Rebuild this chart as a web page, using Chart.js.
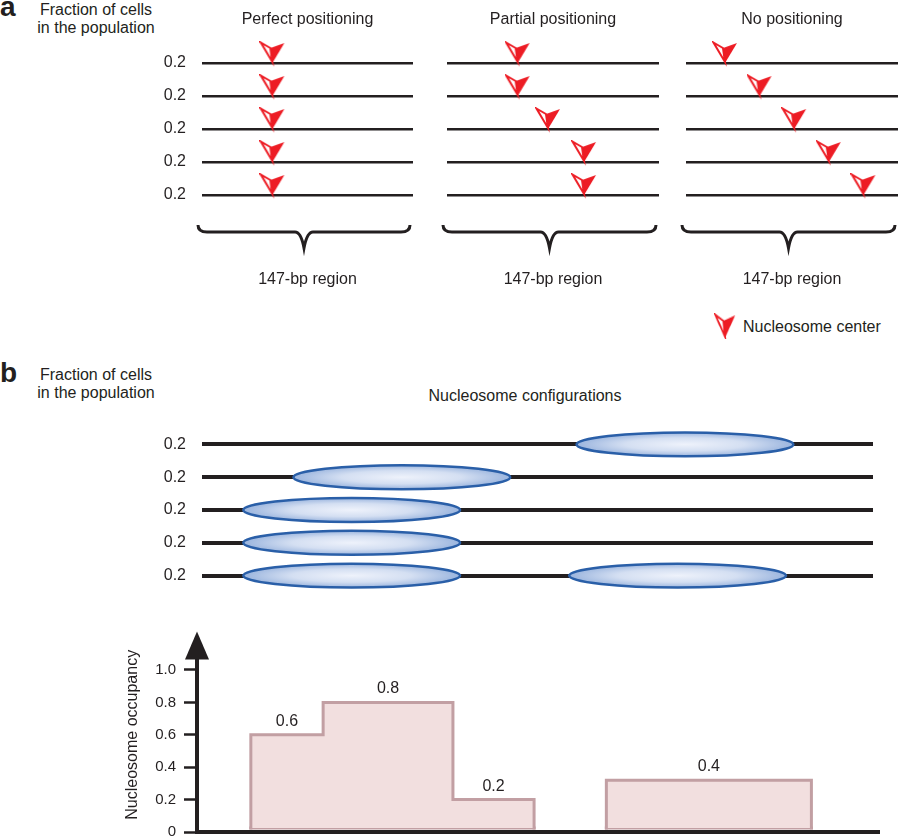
<!DOCTYPE html>
<html>
<head>
<meta charset="utf-8">
<script src="https://cdn.jsdelivr.net/npm/chart.js"></script>
<style>
  body { margin: 0; background: #fff; }
  #page { position: relative; width: 898px; height: 838px; overflow: hidden;
          font-family: 'Liberation Sans', Arial, sans-serif; color: #231f20; }
  #page canvas, #page .txt { position: absolute; }
  .txt { font-size: 16px; line-height: 18px; white-space: nowrap; }
  .panel { font-size: 28px; font-weight: bold; line-height: 28px; }
</style>
</head>
<body>
<div id="page">
  <div class="txt panel" style="left:0;top:-7px">a</div>
  <div class="txt" style="left:26px;top:1px;width:140px;text-align:center">Fraction of cells<br>in the population</div>
  <canvas id="posPerfect" width="263" height="293" style="left:150px;top:0"></canvas>
  <canvas id="posPartial" width="219" height="293" style="left:440px;top:0"></canvas>
  <canvas id="posNone" width="222" height="293" style="left:676px;top:0"></canvas>
  <canvas id="legendMark" width="24" height="26" style="left:714px;top:313px"></canvas>
  <div class="txt" style="left:743px;top:318px">Nucleosome center</div>

  <div class="txt panel" style="left:0;top:359px">b</div>
  <div class="txt" style="left:26px;top:366px;width:140px;text-align:center">Fraction of cells<br>in the population</div>
  <div class="txt" style="left:375px;top:387px;width:300px;text-align:center">Nucleosome configurations</div>
  <canvas id="configs" width="723" height="164" style="left:150px;top:428px"></canvas>
  <canvas id="occupancy" width="780" height="218" style="left:100px;top:620px"></canvas>
</div>
<script>
// panel a: where the nucleosome center sits in each of the 5 cells (bp within the region)
const rowFractions = ['0.2', '0.2', '0.2', '0.2', '0.2'];
const rowIndex = [1, 2, 3, 4, 5];
const regionLength = 147;
const perfectCenters = [49, 49, 49, 49, 49];
const partialCenters = [49, 49, 70, 95, 95];
const noneCenters = [27, 51, 75, 99, 123];

// panel b: nucleosome start positions (bp) per cell
const configLength = 455;
const nucleosomeLength = 147;
const firstNucleosome = [254, 62, 28, 28, 28];
const secondNucleosome = [null, null, null, null, 249];

// occupancy profile
const occStart = [33, 82, 170, 274];
const occEnd = [82, 170, 225, 413];
const occHeight = [0.6, 0.8, 0.2, 0.32];
const occLabels = ['0.6', '0.8', '0.2', '0.4'];
const occTicks = [0, 0.2, 0.4, 0.6, 0.8, 1.0];
const occTickLabels = ['0', '0.2', '0.4', '0.6', '0.8', '1.0'];

const ink = '#231f20';
const red = '#ed1c24';
Chart.defaults.font.family = "'Liberation Sans', Arial, sans-serif";
Chart.defaults.color = ink;

function makeMarker() {
    const c = document.createElement('canvas');
    c.width = 26;
    c.height = 44;
    const g = c.getContext('2d');
    g.fillStyle = red;
    g.strokeStyle = red;
    g.beginPath();
    g.moveTo(11, 7); g.lineTo(25, 2); g.lineTo(13, 22);
    g.closePath();
    g.fill();
    g.beginPath();
    g.moveTo(1.5, 1.5); g.lineTo(11, 7); g.lineTo(13, 21);
    g.closePath();
    g.fillStyle = '#fff';
    g.fill();
    g.lineWidth = 2;
    g.stroke();
    return c;
}
const marker = makeMarker();
document.getElementById('legendMark').getContext('2d').drawImage(marker, 0, 0, 26, 23, 0, 0, 22, 26);

// vertical axes: no extra room above/below for tick labels
const noVPad = a => { a.paddingTop = 0; a.paddingBottom = 0; };

const bracePlugin = {
    id: 'brace',
    afterDraw(chart) {
        const {ctx, chartArea: {left, right, bottom}} = chart;
        const x0 = left - 4, x1 = right - 3, xm = (x0 + x1) / 2;
        const yTop = bottom + 25, yMid = bottom + 32, yTip = bottom + 48;
        ctx.save();
        ctx.beginPath();
        ctx.moveTo(x0, yTop);
        ctx.quadraticCurveTo(x0, yMid, x0 + 9, yMid);
        ctx.lineTo(xm - 9, yMid);
        ctx.quadraticCurveTo(xm - 3, yMid, xm, yTip);
        ctx.quadraticCurveTo(xm + 3, yMid, xm + 9, yMid);
        ctx.lineTo(x1 - 9, yMid);
        ctx.quadraticCurveTo(x1, yMid, x1, yTop);
        ctx.lineWidth = 3;
        ctx.strokeStyle = ink;
        ctx.stroke();
        ctx.restore();
    }
};

function positionChart(id, title, centers, axisWidth, showLabels) {
    return new Chart(document.getElementById(id), {
        type: 'scatter',
        data: {
            datasets: [{
                label: 'Nucleosome center',
                data: centers.map((c, i) => ({x: c, y: rowIndex[i]})),
                pointStyle: marker,
                pointRadius: 6,
                clip: false
            }]
        },
        options: {
            responsive: false,
            animation: false,
            events: [],
            layout: {autoPadding: false, padding: 0},
            plugins: {
                legend: {display: false},
                tooltip: {enabled: false},
                title: {
                    display: true, text: title, fullSize: false,
                    padding: {top: 10, bottom: 0.8},
                    font: {size: 16, weight: 'normal'}, color: ink
                }
            },
            scales: {
                x: {
                    min: 0, max: regionLength,
                    ticks: {display: false},
                    grid: {display: false},
                    border: {display: false},
                    title: {display: true, text: '147-bp region', font: {size: 16}, color: ink, padding: {top: 0, bottom: 4}},
                    afterFit: a => { a.height = 93; a.paddingLeft = 0; a.paddingRight = 0; }
                },
                y: {
                    reverse: true, min: 0, max: 5.15,
                    border: {display: false},
                    grid: {color: ink, lineWidth: 2.5, drawTicks: false},
                    afterBuildTicks: a => { a.ticks = rowIndex.map(v => ({value: v})); },
                    ticks: {display: showLabels, padding: 16, font: {size: 16}, color: ink,
                            callback: (v, i) => rowFractions[i]},
                    afterFit: a => { a.width = axisWidth; noVPad(a); }
                }
            }
        },
        plugins: [bracePlugin]
    });
}

positionChart('posPerfect', 'Perfect positioning', perfectCenters, 52, true);
positionChart('posPartial', 'Partial positioning', partialCenters, 7, false);
positionChart('posNone', 'No positioning', noneCenters, 10, false);

// nucleosome configurations
const ellipsePlugin = {
    id: 'ellipses',
    afterDatasetsDraw(chart) {
        const ctx = chart.ctx;
        chart.data.datasets.forEach((ds, di) => {
            chart.getDatasetMeta(di).data.forEach((bar, i) => {
                if (ds.data[i] == null) return;
                const {x, y, base, height} = bar.getProps(['x', 'y', 'base', 'height'], true);
                const cx = (x + base) / 2, rx = Math.abs(x - base) / 2, ry = height / 2;
                ctx.save();
                ctx.translate(cx, y);
                ctx.scale(1, ry / rx);
                const g = ctx.createRadialGradient(0, 0, 0, 0, 0, rx);
                g.addColorStop(0, '#eef2fb');
                g.addColorStop(0.55, '#d4dff2');
                g.addColorStop(1, '#9bb5de');
                ctx.beginPath();
                ctx.arc(0, 0, rx, 0, Math.PI * 2);
                ctx.fillStyle = g;
                ctx.fill();
                ctx.restore();
                ctx.save();
                ctx.beginPath();
                ctx.ellipse(cx, y, rx, ry, 0, 0, Math.PI * 2);
                ctx.lineWidth = 2.5;
                ctx.strokeStyle = '#2a5fa8';
                ctx.stroke();
                ctx.restore();
            });
        });
    }
};

const nucStyle = {grouped: false, barPercentage: 0.73, categoryPercentage: 1,
                  backgroundColor: 'rgba(0,0,0,0)', borderWidth: 0};

new Chart(document.getElementById('configs'), {
    type: 'bar',
    data: {
        labels: rowFractions,
        datasets: [
            Object.assign({label: 'Nucleosome', data: firstNucleosome.map(s => [s, s + nucleosomeLength])}, nucStyle),
            Object.assign({label: 'Nucleosome', data: secondNucleosome.map(s => s == null ? null : [s, s + nucleosomeLength])}, nucStyle)
        ]
    },
    options: {
        indexAxis: 'y',
        responsive: false,
        animation: false,
        events: [],
        layout: {autoPadding: false, padding: 0},
        plugins: {legend: {display: false}, tooltip: {enabled: false}},
        scales: {
            x: {type: 'linear', min: 0, max: configLength, display: false},
            y: {
                grid: {offset: false, color: ink, lineWidth: 4, drawTicks: false},
                border: {display: false},
                ticks: {padding: 16, font: {size: 16}, color: ink},
                afterFit: a => { a.width = 52; noVPad(a); }
            }
        }
    },
    plugins: [ellipsePlugin]
});

// occupancy profile
const base = 0.025;
const groups = [];
occStart.forEach((s, i) => {
    const last = groups[groups.length - 1];
    if (last && last.end === s) {
        last.pts.push({x: s, y: occHeight[i]}, {x: occEnd[i], y: occHeight[i]});
        last.end = occEnd[i];
    } else {
        groups.push({start: s, end: occEnd[i],
                     pts: [{x: s, y: base}, {x: s, y: occHeight[i]}, {x: occEnd[i], y: occHeight[i]}]});
    }
});
groups.forEach(g => g.pts.push({x: g.end, y: base}));

const occDatasets = [];
groups.forEach(g => {
    occDatasets.push({
        data: g.pts, showLine: true, fill: {value: base},
        backgroundColor: '#f2dfdf', borderColor: '#c29fa3', borderWidth: 3,
        borderCapStyle: 'square', borderJoinStyle: 'miter', pointRadius: 0, clip: false
    });
    occDatasets.push({
        data: [{x: g.start, y: base}, {x: g.end, y: base}], showLine: true, fill: false,
        borderColor: '#c29fa3', borderWidth: 3, borderCapStyle: 'square', pointRadius: 0, clip: false
    });
});

const occPlugin = {
    id: 'occDecor',
    afterDatasetsDraw(chart) {
        const {ctx, scales: {x, y}} = chart;
        ctx.save();
        ctx.font = "16px 'Liberation Sans', Arial, sans-serif";
        ctx.fillStyle = ink;
        ctx.textAlign = 'center';
        occLabels.forEach((t, i) => {
            ctx.fillText(t, x.getPixelForValue((occStart[i] + occEnd[i]) / 2), y.getPixelForValue(occHeight[i]) - 9);
        });
        ctx.restore();
    },
    afterDraw(chart) {
        const {ctx, chartArea: {left, top}} = chart;
        ctx.save();
        ctx.fillStyle = ink;
        ctx.beginPath();
        ctx.moveTo(left, top - 6);
        ctx.lineTo(left + 12, top + 22);
        ctx.lineTo(left - 12, top + 22);
        ctx.closePath();
        ctx.fill();
        ctx.restore();
    }
};

new Chart(document.getElementById('occupancy'), {
    type: 'scatter',
    data: {datasets: occDatasets},
    options: {
        responsive: false,
        animation: false,
        events: [],
        layout: {autoPadding: false, padding: {top: 17.6, left: 0, right: 0, bottom: 0}},
        plugins: {legend: {display: false}, tooltip: {enabled: false}},
        scales: {
            x: {
                min: -3.5, max: 459.5,
                ticks: {display: false},
                grid: {display: false},
                border: {display: true, width: 4, color: ink},
                afterFit: a => { a.height = 6; a.paddingLeft = 0; a.paddingRight = 0; }
            },
            y: {
                min: 0, max: 1.2,
                afterBuildTicks: a => { a.ticks = occTicks.map(v => ({value: v})); },
                ticks: {padding: 8, font: {size: 15}, color: ink, callback: (v, i) => occTickLabels[i]},
                grid: {drawOnChartArea: false, drawTicks: true, tickLength: 13, tickWidth: 2.5, tickColor: ink, color: ink},
                border: {display: true, width: 4, color: ink},
                title: {display: true, text: 'Nucleosome occupancy', font: {size: 16}, color: ink, padding: {top: 23, bottom: 0}},
                afterFit: a => { a.width = 97; noVPad(a); }
            }
        }
    },
    plugins: [occPlugin]
});
</script>
</body>
</html>
